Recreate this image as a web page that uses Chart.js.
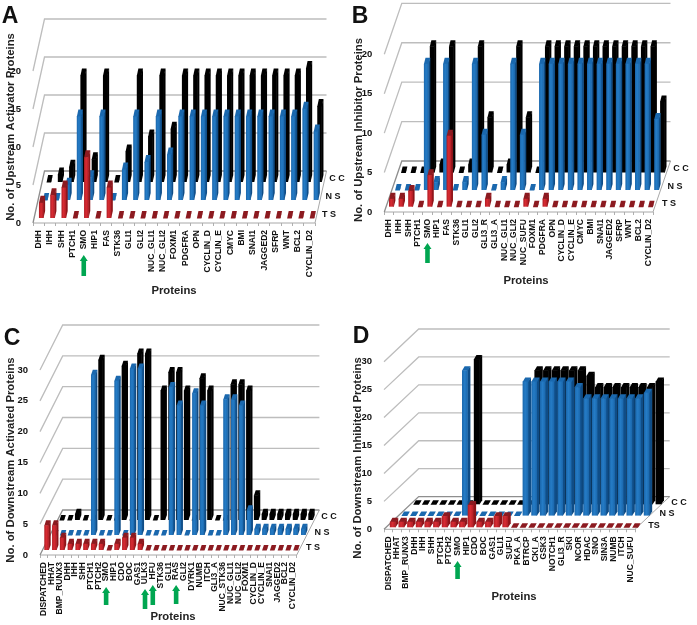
<!DOCTYPE html>
<html>
<head>
<meta charset="utf-8">
<script src="https://cdn.jsdelivr.net/npm/chart.js@4/dist/chart.umd.min.js"></script>
<style>
  html, body { margin: 0; background: #fff; }
  #wrap { position: relative; width: 697px; height: 625px; overflow: hidden; }
  canvas { position: absolute; left: 0; top: 0; filter: blur(0.35px); }
</style>
</head>
<body>
<div id="wrap">
  <canvas id="a" width="697" height="625"></canvas>
  <canvas id="b" width="697" height="625"></canvas>
  <canvas id="c" width="697" height="625"></canvas>
  <canvas id="d" width="697" height="625"></canvas>
</div>
<script>
// panel A - upstream activators
const labelsA = ['DHH','IHH','SHH','PTCH1','SMO','HIP1','FAS','STK36','GLI1','GLI2','NUC_GLI1','NUC_GLI2','FOXM1','PDGFRA','OPN','CYCLIN_D','CYCLIN_E','CMYC','BMI','SNAI1','JAGGED2','SFRP','WNT','BCL2','CYCLIN_D2'];
const tsA = [2,3,4,0,8,0,4,0,0,0,0,0,0,0,0,0,0,0,0,0,0,0,0,0,0];
const nsA = [0,0,2,11,3,11,0,4,11,5,11,6,11,11,11,11,11,11,11,11,11,11,11,12,9];
const ccA = [0,1,2,14,3,14,0,4,14,6,14,7,14,14,14,14,14,14,14,14,14,14,14,15,10];

// panel B - upstream inhibitors
const labelsB = ['DHH','IHH','SHH','PTCH1','SMO','HIP1','FAS','STK36','GLI1','GLI2','GLI3_R','GLI3_A','NUC_GLI1','NUC_GLI2','NUC_SUFU','FOXM1','PDGFRA','OPN','CYCLIN_D','CYCLIN_E','CMYC','BMI','SNAI1','JAGGED2','SFRP','WNT','BCL2','CYCLIN_D2'];
const tsB = [1,1,2,0,4,0,9,0,0,0,1,0,0,0,1,0,1,0,0,0,0,0,0,0,0,0,0,0];
const nsB = [0,0,0,16,1,16,0,1,16,7,0,1,16,7,0,16,16,16,16,16,16,16,16,16,16,16,16,9];
const ccB = [0,0,0,16,1,16,0,1,16,7,0,1,16,7,0,16,16,16,16,16,16,16,16,16,16,16,16,9];

// panel C - downstream activated
const labelsC = ['DISPATCHED','HHAT','BMP_RUNX3','DHH','IHH','SHH','PTCH1','PTCH2','SMO','HIP1','CDO','BOC','GAS1','ULK3','HFU','STK36','GLI1','RAS','GLI2','DYRK1','NUMB','ITCH','GLI3_A','NUC_STK36','NUC_GLI1','NUC_GLI2','FOXM1','CYCLIN_D','CYCLIN_E','SNAI1','JAGGED2','BCL2','CYCLIN_D2'];
const tsC = [4,4,2,1,1,1,1,1,0,1,2,2,1,0,0,0,0,0,0,0,0,0,0,0,0,0,0,0,0,0,0,0,0];
const nsC = [0,0,0,0,0,26,0,0,25,0,27,27,0,0,0,24,21,0,23,21,0,0,22,22,21,4,1,1,1,1,1,1,1];
const ccC = [0,0,1,0,0,26,0,0,25,0,27,27,0,21,24,24,21,0,23,21,0,0,22,22,21,4,1,1,1,1,1,1,1];

// panel D - downstream inhibited
const labelsD = ['DISPATCHED','HHAT','BMP_RUNX3','DHH','IHH','SHH','PTCH1','PTCH2','SMO','HIP1','CDO','BOC','GAS1','GLI1','SUFU','PKA_A','BTRCP','CKI_A','GSK3','NOTCH1','GLI3_R','SKI','NCOR','HDAC','SNO','SIN3A','NUMB','ITCH','NUC_SUFU'];
const tsD = [1,1,1,1,1,1,2,1,1,4,1,1,2,2,0,0,0,0,0,0,0,0,0,0,0,0,0,0,0];
const nsD = [0,0,0,0,0,0,0,26,0,0,0,0,0,0,24,24,24,24,24,24,23,21,21,21,21,21,21,21,22];
const ccD = [0,0,0,0,0,0,0,26,0,0,0,0,0,0,24,24,24,24,24,24,23,21,21,21,21,21,21,21,22];

const font = '"Liberation Sans", Arial, sans-serif';

const looks = {
  ts: { edge: '#b01c24', mid: '#d82c33', side: '#8e1419', top: '#8c1a20' },
  ns: { edge: '#1a66ab', mid: '#257cc6', side: '#0f4d87', top: '#1a68ae' },
  cc: { edge: '#000', mid: '#000', side: '#000', top: '#000' }
};

function box(ctx, x, top, base, w, sx, cap, look) {
  const l = x - w / 2, r = x + w / 2;
  // right side
  ctx.fillStyle = look.side;
  ctx.beginPath();
  ctx.moveTo(r - 0.5, base); ctx.lineTo(r, base); ctx.lineTo(r + sx, base - cap); ctx.lineTo(r + sx, top - cap); ctx.lineTo(r - 0.5, top);
  ctx.closePath(); ctx.fill();
  // top
  ctx.fillStyle = look.top;
  ctx.beginPath();
  ctx.moveTo(l, top + 0.5); ctx.lineTo(r, top + 0.5); ctx.lineTo(r + sx, top - cap); ctx.lineTo(l + sx, top - cap);
  ctx.closePath(); ctx.fill();
  // front
  if (base - top > 0.5) {
    const g = ctx.createLinearGradient(l, 0, r, 0);
    g.addColorStop(0, look.edge); g.addColorStop(0.45, look.mid); g.addColorStop(1, look.edge);
    ctx.fillStyle = g;
    ctx.fillRect(l, top, w, base - top);
  }
}

function panelPlugin(p) {
  return {
    id: 'panel',
    beforeDatasetsDraw(chart) {
      const { ctx, chartArea: ca, scales } = chart;
      const y = scales.y;
      ctx.save();
      // floor
      const y0 = y.getPixelForValue(0);
      ctx.strokeStyle = '#a8a8a8';
      ctx.lineWidth = 1;
      ctx.beginPath();
      ctx.moveTo(ca.left, y0); ctx.lineTo(ca.right, y0);
      ctx.lineTo(ca.right + p.depth[0], y0 - p.depth[1]);
      ctx.stroke();
      // walls: side diagonal then back line for every tick
      y.ticks.forEach(t => {
        const py = y.getPixelForValue(t.value);
        ctx.strokeStyle = t.value === 0 ? '#8e8e8e' : '#bdbdbd';
        ctx.lineWidth = 1.3;
        ctx.beginPath();
        ctx.moveTo(ca.left, py);
        ctx.lineTo(ca.left + p.depth[0], py - p.depth[1]);
        ctx.lineTo(ca.right + p.depth[0], py - p.depth[1]);
        ctx.stroke();
      });
      ctx.restore();
    },
    beforeDatasetDraw(chart, args) {
      const { ctx } = chart;
      const row = p.rows[args.index];
      const look = looks[chart.data.datasets[args.index].key];
      args.meta.data.forEach(el => {
        box(ctx, el.x + row[0], el.y - row[1], el.base - row[1], p.w, p.sx, p.cap, look);
      });
      return false;
    },
    afterDraw(chart) {
      const { ctx, scales } = chart;
      ctx.save();
      ctx.fillStyle = '#111';
      ctx.textAlign = 'center';
      ctx.textBaseline = 'middle';
      // panel letter
      ctx.font = 'bold 23px ' + font;
      ctx.fillText(p.letter, p.letterAt[0], p.letterAt[1]);
      // axis titles
      ctx.font = 'bold ' + p.titleSize + 'px ' + font;
      ctx.fillStyle = '#222';
      ctx.fillText('Proteins', p.xTitleAt[0], p.xTitleAt[1]);
      ctx.save();
      ctx.translate(p.yTitleAt[0], p.yTitleAt[1]);
      ctx.rotate(-Math.PI / 2);
      ctx.fillText(p.yTitle, 0, 0);
      ctx.restore();
      // row names
      ctx.font = 'bold 9px ' + font;
      ctx.fillStyle = '#111';
      p.rowNames.forEach(n => ctx.fillText(n[0], n[1], n[2]));
      // green arrows under the labels
      ctx.fillStyle = '#00a651';
      p.arrows.forEach(a => {
        const ax = scales.x.getPixelForValue(a[0]);
        ctx.beginPath();
        ctx.moveTo(ax, a[1]);
        ctx.lineTo(ax + 4, a[1] + 6); ctx.lineTo(ax + 2.3, a[1] + 6);
        ctx.lineTo(ax + 2.3, a[2]); ctx.lineTo(ax - 2.3, a[2]);
        ctx.lineTo(ax - 2.3, a[1] + 6); ctx.lineTo(ax - 4, a[1] + 6);
        ctx.closePath(); ctx.fill();
      });
      ctx.restore();
    }
  };
}

function makePanel(id, labels, ts, ns, cc, yMax, p) {
  new Chart(document.getElementById(id), {
    type: 'bar',
    data: {
      labels: labels,
      datasets: [
        { key: 'ts', label: 'TS', data: ts, grouped: false },
        { key: 'ns', label: 'NS', data: ns, grouped: false },
        { key: 'cc', label: 'CC', data: cc, grouped: false }
      ]
    },
    options: {
      responsive: false,
      animation: false,
      layout: { padding: { left: 0, bottom: 0, top: p.top, right: 697 - p.right } },
      plugins: { legend: { display: false }, tooltip: { enabled: false } },
      datasets: { bar: { barThickness: p.w } },
      scales: {
        x: {
          grid: { drawOnChartArea: false, drawTicks: true, tickLength: 3, color: '#b0b0b0' },
          border: { display: false },
          ticks: {
            autoSkip: false, minRotation: 90, maxRotation: 90, padding: 4,
            color: '#111', font: { family: font, size: p.labelSize, weight: 'bold' }
          },
          afterFit(s) { s.height = 625 - p.y0; s.paddingLeft = 0; s.paddingRight = 0; }
        },
        y: {
          min: 0, max: yMax,
          grid: { display: false },
          border: { display: false },
          ticks: {
            stepSize: 5, padding: 4,
            color: '#111', font: { family: font, size: 9.5, weight: 'bold' }
          },
          afterFit(s) { s.width = p.left; s.paddingTop = 0; s.paddingBottom = 0; }
        }
      }
    },
    plugins: [panelPlugin(p)]
  });
}

makePanel('a', labelsA, tsA, nsA, ccA, 20, {
  left: 33, right: 315, top: 71, y0: 223, depth: [11.5, 52],
  rows: [[2.6, 5], [6.6, 23], [10.2, 41]], w: 4.6, sx: 1.6, cap: 7, labelSize: 8.5, titleSize: 11.3,
  letter: 'A', letterAt: [10, 17], xTitleAt: [174, 291], yTitleAt: [11, 127],
  yTitle: 'No. of Upstream Activator Proteins',
  rowNames: [['T S', 329, 215], ['N S', 333, 197], ['C C', 337, 179]],
  arrows: [['SMO', 255, 276]]
});

makePanel('b', labelsB, tsB, nsB, ccB, 20, {
  left: 384.3, right: 653, top: 54.3, y0: 212, depth: [17.5, 51],
  rows: [[2.3, 5.3], [8.4, 22], [14.3, 39.5]], w: 4.8, sx: 1.6, cap: 6, labelSize: 8.5, titleSize: 11.3,
  letter: 'B', letterAt: [360, 17], xTitleAt: [526, 281], yTitleAt: [359, 130],
  yTitle: 'No. of Upstream Inhibitor Proteins',
  rowNames: [['T S', 669, 204], ['N S', 675, 187], ['C C', 681, 169]],
  arrows: [['SMO', 243, 263]]
});

makePanel('c', labelsC, tsC, nsC, ccC, 30, {
  left: 40, right: 296.7, top: 370, y0: 555, depth: [22.7, 45],
  rows: [[2.7, 5], [10.5, 20], [17.8, 35]], w: 4.6, sx: 1.8, cap: 5, labelSize: 8.5, titleSize: 11.3,
  letter: 'C', letterAt: [12, 339], xTitleAt: [173, 617], yTitleAt: [11, 460],
  yTitle: 'No. of Downstream Activated Proteins',
  rowNames: [['T S', 313, 548], ['N S', 322, 533], ['C C', 329, 517]],
  arrows: [['SMO', 587, 605], ['ULK3', 589, 609], ['HFU', 585, 605], ['RAS', 585, 604]]
});

makePanel('d', labelsD, tsD, nsD, ccD, 30, {
  left: 384, right: 635, top: 361.7, y0: 529.3, depth: [34.7, 32.7],
  rows: [[4.4, 2], [16, 13.7], [27.8, 25]], w: 5.8, sx: 2.6, cap: 4, labelSize: 8.5, titleSize: 11.3,
  letter: 'D', letterAt: [361, 337], xTitleAt: [514, 597], yTitleAt: [358, 458],
  yTitle: 'No. of Downstream Inhibited Proteins',
  rowNames: [['TS', 654, 526], ['N S', 667, 514], ['C C', 679, 503]],
  arrows: [['SMO', 561, 579]]
});
</script>
</body>
</html>
